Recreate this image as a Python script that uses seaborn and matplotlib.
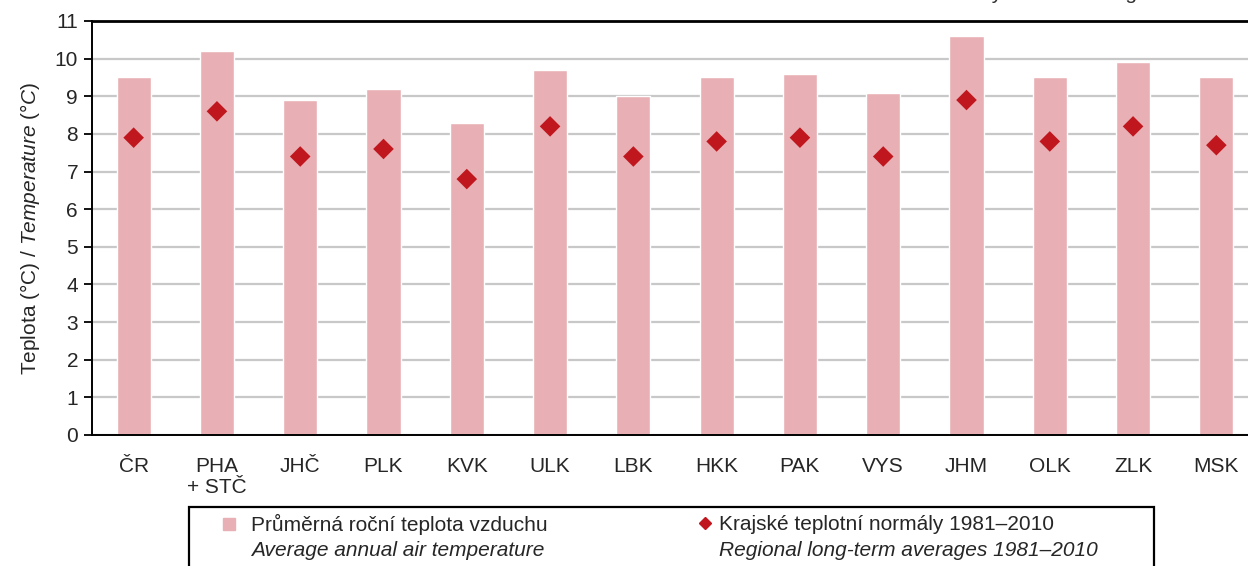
import matplotlib
matplotlib.use("Agg")
import matplotlib.pyplot as plt
import seaborn as sns
import pandas as pd
from matplotlib.patches import Rectangle
from matplotlib.lines import Line2D

regions = ["ČR", "PHA\n+ STČ", "JHČ", "PLK", "KVK", "ULK", "LBK", "HKK",
           "PAK", "VYS", "JHM", "OLK", "ZLK", "MSK"]
avg_temp = [9.5, 10.2, 8.9, 9.2, 8.3, 9.7, 9.0, 9.5, 9.6, 9.1, 10.6, 9.5, 9.9, 9.5]
normals = [7.9, 8.6, 7.4, 7.6, 6.8, 8.2, 7.4, 7.8, 7.9, 7.4, 8.9, 7.8, 8.2, 7.7]
y_ticks = list(range(0, 12))

bar_color = "#E8B0B4"
dot_color = "#C0171F"
fs = 15

sns.set_style("white")
plt.rcParams["font.family"] = ["Liberation Sans", "DejaVu Sans"]
plt.rcParams["mathtext.fontset"] = "custom"
plt.rcParams["mathtext.rm"] = "Liberation Sans"
plt.rcParams["mathtext.it"] = "Liberation Sans:italic"

df = pd.DataFrame({"region": regions, "avg": avg_temp, "norm": normals})

W, H = 1248, 566
fig = plt.figure(figsize=(W / 100, H / 100), dpi=100)
# axes runs a little past the right edge, like in the source image
ax = fig.add_axes([92 / W, 1 - 435 / H, 1166 / W, (435 - 21) / H])

sns.barplot(data=df, x="region", y="avg", color=bar_color, width=0.41,
            saturation=1, ax=ax, zorder=2)
sns.scatterplot(data=df, x="region", y="norm", marker="D", s=110,
                color=dot_color, edgecolor="none", ax=ax, zorder=3)

ax.set_ylim(0, 11)
ax.set_xlim(-0.5, len(regions) - 0.5)
ax.set_yticks(y_ticks)
ax.yaxis.grid(True, color="#C8C8C8", linewidth=1.6, zorder=0)
ax.set_axisbelow(True)

ax.set_xticks(range(len(regions)))
ax.set_xticklabels(regions, fontsize=fs, linespacing=1.1)
ax.set_xticks([i - 0.5 for i in range(len(regions) + 1)], minor=True)
ax.tick_params(axis="x", which="major", length=0, pad=16)
ax.tick_params(axis="x", which="minor", length=6, width=1.3, direction="out", color="black")
ax.tick_params(axis="y", length=6, width=1.3, direction="out", color="black",
               labelsize=fs, pad=4, left=True)

for s in ["left", "bottom", "top"]:
    ax.spines[s].set_visible(True)
    ax.spines[s].set_color("black")
ax.spines["left"].set_linewidth(1.4)
ax.spines["bottom"].set_linewidth(1.4)
ax.spines["top"].set_linewidth(2.0)
ax.spines["right"].set_visible(False)

ax.set_xlabel("")
ax.set_ylabel(r"Teplota (°C) / $\it{Temperature\ (°C)}$", fontsize=fs, labelpad=9)

# source note, mostly cut off at the top edge
fig.text(1.0, 1 + 1 / H, "Source: Czech Hydrometeorological Institute",
         ha="right", va="baseline", fontsize=fs, color="#303030")

# legend box, drawn by hand (it runs off the bottom of the image)
box = Rectangle((189 / W, -0.05), (1154 - 189) / W, (0.05 + 1 - 507 / H),
                transform=fig.transFigure, fill=False, edgecolor="black",
                linewidth=1.6, clip_on=False)
fig.add_artist(box)
fig.add_artist(Line2D([229 / W], [1 - 524 / H], marker="s", markersize=8.5,
                      color=bar_color, linestyle="none", transform=fig.transFigure))
fig.add_artist(Line2D([705 / W], [1 - 523 / H], marker="D", markersize=6,
                      color=dot_color, linestyle="none", transform=fig.transFigure))
fig.text(251 / W, 1 - 524 / H, "Průměrná roční teplota vzduchu", fontsize=fs, va="center")
fig.text(251 / W, 1 - 551 / H, "Average annual air temperature", fontsize=fs,
         va="center", style="italic")
fig.text(719 / W, 1 - 524 / H, "Krajské teplotní normály 1981–2010", fontsize=fs, va="center")
fig.text(719 / W, 1 - 551 / H, "Regional long-term averages 1981–2010", fontsize=fs,
         va="center", style="italic")

fig.savefig("out.png", dpi=100)
